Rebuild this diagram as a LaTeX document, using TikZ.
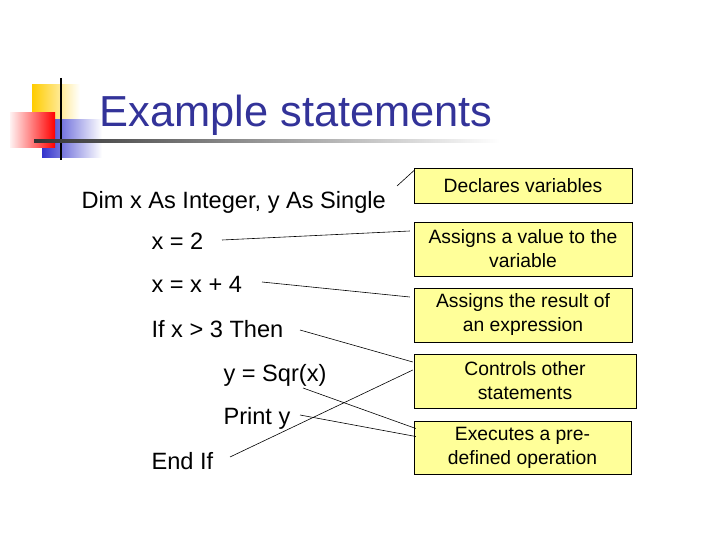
\documentclass[tikz,border=0pt]{standalone}
\usepackage{fontspec}
\setmainfont{Liberation Sans}
\usetikzlibrary{calc}
\definecolor{titleblue}{RGB}{51,51,153}
\definecolor{boxyellow}{RGB}{255,255,153}
\definecolor{logoyellow}{RGB}{255,204,0}
\definecolor{logoblue}{RGB}{51,51,204}
\tikzset{
  code/.style={anchor=base west,font=\fontsize{23.6}{28}\selectfont},
  note/.style={draw,fill=boxyellow,align=center,inner sep=0pt,
    font=\fontsize{19.3}{24}\selectfont},
  link/.style={line width=0.6pt}
}
\begin{document}
\begin{tikzpicture}[x=1pt,y=-1pt]
\useasboundingbox (0,0) rectangle (720,540);
% logo
\shade[left color=logoyellow,middle color=logoyellow,right color=white] (32,85) rectangle (80,130);
\shade[left color=logoblue,middle color=logoblue,right color=white] (42,120) rectangle (102,158);
\shade[left color=red!5,right color=red] (10,113) rectangle (55,148);
\draw[line width=2pt] (61,78) -- (61,160);
\shade[left color=black!80,right color=white] (34,140) rectangle (500,143);
\node[anchor=base west,text=titleblue,font=\fontsize{43.4}{50}\selectfont] (title) at (96,127) {Example statements};

% statements
\node[code] (dim) at (78,208) {Dim x As Integer, y As Single};
\node[code] (set) at (148,249) {x = 2};
\node[code] (add) at (148,292) {x = x + 4};
\node[code] (ifx) at (148,337) {If x > 3 Then};
\node[code] (sqr) at (220,381) {y = Sqr(x)};
\node[code] (prt) at (220,424) {Print y};
\node[code] (end) at (148,469) {End If};

% descriptions
\node[note,minimum width=218,minimum height=35] (decl) at (523,185.5) {Declares variables};
\node[note,minimum width=218,minimum height=54] (asgn) at (523,249) {Assigns a value to the\\variable};
\node[note,minimum width=218,minimum height=54] (expr) at (523,315) {Assigns the result of\\an expression};
\node[note,minimum width=222,minimum height=54] (ctrl) at (525,381) {Controls other\\statements};
\node[note,minimum width=217,minimum height=53] (exec) at (522.5,447.5) {Executes a pre-\\defined operation};

% links
\coordinate (dimR) at (397,186);
\coordinate (setR) at (222,240);
\coordinate (addR) at (262,282);
\coordinate (ifxR) at (300,330);
\coordinate (sqrR) at (303,388);
\coordinate (prtR) at (300,415);
\coordinate (endR) at (230,457);
\draw[link] (dimR) -- ([xshift=1,yshift=-2]decl.north west);
\draw[link] (setR) -- ([xshift=-4,yshift=18]asgn.west);
\draw[link] (addR) -- ([xshift=-4,yshift=18]expr.west);
\draw[link] (ifxR) -- ([xshift=-1,yshift=19]ctrl.west);
\draw[link] (endR) -- ([xshift=-1,yshift=11]ctrl.west);
\draw[link] (sqrR) -- ([xshift=2,yshift=19]exec.west);
\draw[link] (prtR) -- ([xshift=2,yshift=11]exec.west);
\end{tikzpicture}
\end{document}
